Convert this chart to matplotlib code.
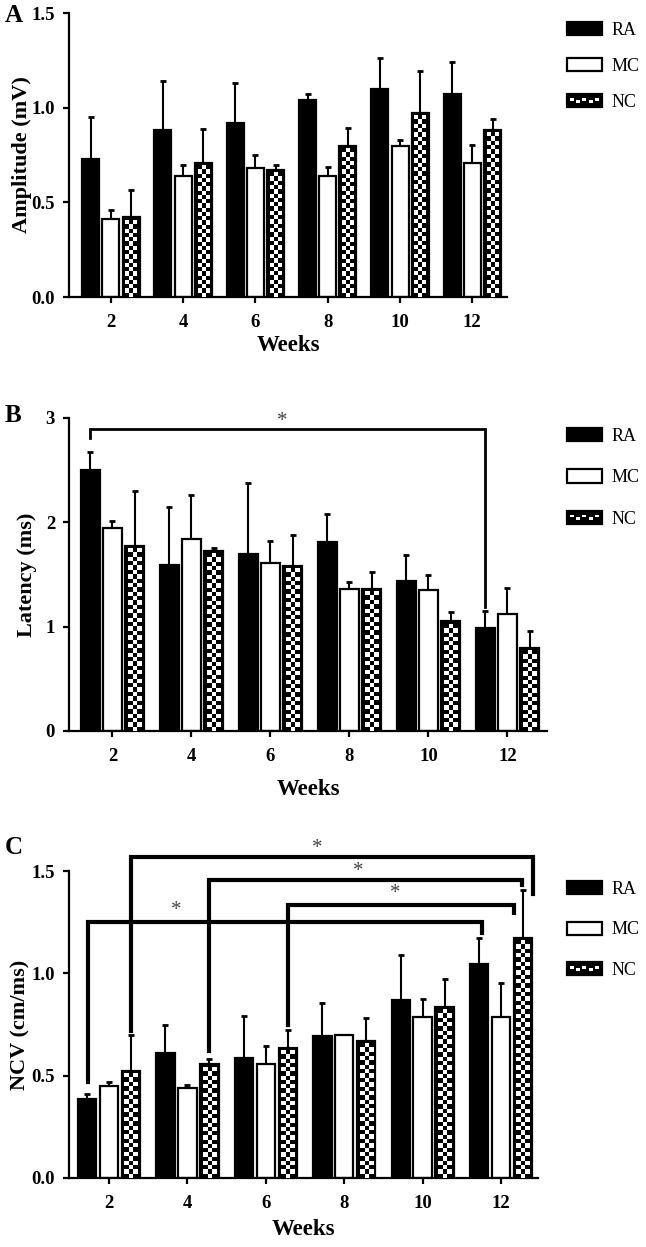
import numpy as np
import matplotlib
matplotlib.use("Agg")
import matplotlib.pyplot as plt
from matplotlib.patches import Rectangle
from matplotlib.legend_handler import HandlerBase

plt.rcParams['font.family'] = ['Liberation Serif', 'DejaVu Serif']

weeks = [2, 4, 6, 8, 10, 12]
groups = ['RA', 'MC', 'NC']

# panel A - amplitude (mV)
amp_ra = [0.73, 0.88, 0.92, 1.04, 1.10, 1.07]
amp_ra_err = [0.22, 0.26, 0.21, 0.03, 0.16, 0.17]
amp_mc = [0.41, 0.64, 0.68, 0.64, 0.80, 0.71]
amp_mc_err = [0.05, 0.055, 0.07, 0.045, 0.03, 0.095]
amp_nc = [0.42, 0.71, 0.67, 0.80, 0.97, 0.88]
amp_nc_err = [0.145, 0.175, 0.025, 0.09, 0.225, 0.06]

# panel B - latency (ms)
lat_ra = [2.50, 1.59, 1.70, 1.81, 1.44, 0.99]
lat_ra_err = [0.17, 0.56, 0.68, 0.27, 0.25, 0.16]
lat_mc = [1.95, 1.84, 1.61, 1.36, 1.35, 1.12]
lat_mc_err = [0.065, 0.42, 0.21, 0.065, 0.145, 0.25]
lat_nc = [1.77, 1.73, 1.58, 1.36, 1.05, 0.80]
lat_nc_err = [0.53, 0.02, 0.30, 0.16, 0.09, 0.16]

# panel C - NCV (cm/ms)
ncv_ra = [0.385, 0.61, 0.585, 0.695, 0.87, 1.045]
ncv_ra_err = [0.025, 0.14, 0.205, 0.16, 0.22, 0.13]
ncv_mc = [0.45, 0.44, 0.555, 0.70, 0.785, 0.785]
ncv_mc_err = [0.02, 0.015, 0.09, 0.0, 0.09, 0.17]
ncv_nc = [0.525, 0.555, 0.635, 0.67, 0.835, 1.175]
ncv_nc_err = [0.175, 0.025, 0.09, 0.11, 0.135, 0.23]

# significance brackets: x left, y left, x right, y right, y top, star x, star y
brackets_b = [(-0.28, 2.81, 4.72, 1.19, 2.895, 2.15, 2.97)]
brackets_c = [
    (-0.27, 0.47, 4.75, 1.195, 1.252, 0.86, 1.305),
    (0.28, 0.72, 5.40, 1.39, 1.570, 2.65, 1.61),
    (1.27, 0.62, 5.27, 1.43, 1.456, 3.18, 1.50),
    (2.28, 0.747, 5.16, 1.293, 1.334, 3.65, 1.39),
]

W, H = 646, 1247
fig = plt.figure(figsize=(W / 100, H / 100), dpi=100)

OFF = 0.28
BW = 0.235


def rect(left, right, top, bottom):
    return [left / W, 1 - bottom / H, (right - left) / W, (bottom - top) / H]


def checker(ax, x0, x1, h):
    if h <= 0:
        return
    p0 = ax.transData.transform((x0, 0))
    p1 = ax.transData.transform((x1, h))
    inset = 2.6
    wpx = p1[0] - p0[0] - 2 * inset
    hpx = p1[1] - p0[1] - inset
    cell = 4.3
    nc = max(2, int(round(wpx / cell)))
    nr = max(1, int(round(hpx / cell)))
    arr = (np.add.outer(np.arange(nr), np.arange(nc)) % 2).astype(float)
    inv = ax.transData.inverted()
    a = inv.transform((p0[0] + inset, p0[1]))
    b = inv.transform((p1[0] - inset, p1[1] - inset))
    ax.imshow(arr, cmap='gray', vmin=0, vmax=1, extent=[a[0], b[0], a[1], b[1]],
              aspect='auto', interpolation='nearest', zorder=3, origin='lower')


class CheckHandler(HandlerBase):
    def create_artists(self, legend, orig_handle, xdescent, ydescent, width, height, fontsize, trans):
        arts = [Rectangle((-xdescent, -ydescent), width, height, fc='black', ec='black', lw=1.2, transform=trans)]
        n = 5
        cw = width / (n * 1.5 + 1)
        for k in range(n):
            yy = -ydescent + height * (0.5 if k % 2 == 0 else 0.3)
            arts.append(Rectangle((-xdescent + cw * (0.7 + 1.5 * k), yy), cw, height * 0.22,
                                  fc='white', ec='none', transform=trans))
        return arts


def panel(box, ra, ra_err, mc, mc_err, nc, nc_err, ylim, yticks, yfmt, ylabel, xlim,
          letter, letter_xy, legend_xy, legend_space, ylabel_px, xlabelpad,
          brackets=None, br_lw=2.0):
    ax = fig.add_axes(rect(*box))
    ax.set_xlim(*xlim)
    ax.set_ylim(*ylim)
    x = np.arange(len(weeks))
    series = [(ra, ra_err, 'black'), (mc, mc_err, 'white'), (nc, nc_err, 'black')]
    handles = []
    for k, (vals, errs, fc) in enumerate(series):
        xs = x + (k - 1) * OFF
        bars = ax.bar(xs, vals, width=BW, color=fc, edgecolor='black', linewidth=1.6,
                      zorder=2, label=groups[k])
        ax.errorbar(xs, vals, yerr=[np.zeros(len(vals)), errs], fmt='none', ecolor='black',
                    elinewidth=1.5, capsize=2.5, capthick=2.0, zorder=1)
        handles.append(bars)
        if k == 2:
            for xi, v in zip(xs, vals):
                checker(ax, xi - BW / 2, xi + BW / 2, v)
    if brackets:
        for xl, yl, xr, yr, yt, sx, sy in brackets:
            ax.plot([xl, xl, xr, xr], [yl, yt, yt, yr], color='black', lw=br_lw,
                    solid_joinstyle='miter', clip_on=False, zorder=4)
            ax.text(sx, sy, '*', ha='center', va='center', fontsize=15, color='#444444')
    ax.spines['top'].set_visible(False)
    ax.spines['right'].set_visible(False)
    for s in ['left', 'bottom']:
        ax.spines[s].set_linewidth(1.6)
    ax.set_xticks(x)
    ax.set_xticklabels([str(w) for w in weeks])
    ax.set_yticks(yticks)
    ax.set_yticklabels([yfmt.format(t) for t in yticks])
    ax.tick_params(axis='both', direction='out', length=4, width=1.6, labelsize=13.5, pad=6)
    ax.tick_params(axis='x', pad=8)
    for lab in ax.get_xticklabels() + ax.get_yticklabels():
        lab.set_fontweight('bold')
    ax.set_xlabel('Weeks', fontsize=16.5, fontweight='bold', labelpad=xlabelpad)
    ax.set_ylabel(ylabel, fontsize=16, fontweight='bold', va='center')
    ax.yaxis.set_label_coords((ylabel_px - box[0]) / (box[1] - box[0]), 0.5)
    fig.text(letter_xy[0] / W, 1 - letter_xy[1] / H, letter, fontsize=18, fontweight='bold',
             ha='center', va='center')
    leg = fig.legend(handles, groups, loc='upper left',
                     bbox_to_anchor=(legend_xy[0] / W, 1 - legend_xy[1] / H),
                     frameon=False, fontsize=13, handlelength=1.95, handleheight=0.75,
                     handletextpad=0.5, labelspacing=legend_space, borderpad=0, borderaxespad=0,
                     handler_map={handles[2]: CheckHandler()})
    for p in leg.get_patches():
        p.set_linewidth(1.6)
    return ax


panel((69, 507, 13, 297), amp_ra, amp_ra_err, amp_mc, amp_mc_err, amp_nc, amp_nc_err,
      (0, 1.5), [0.0, 0.5, 1.0, 1.5], '{:.1f}', 'Amplitude (mV)', (-0.58, 5.48),
      'A', (14, 15), (567, 22), 1.05, 22, 3)

panel((69, 547, 418, 731), lat_ra, lat_ra_err, lat_mc, lat_mc_err, lat_nc, lat_nc_err,
      (0, 3), [0, 1, 2, 3], '{:.0f}', 'Latency (ms)', (-0.55, 5.50),
      'B', (13, 416), (567, 428), 1.35, 27, 10, brackets=brackets_b, br_lw=2.0)

panel((69, 538, 871, 1178), ncv_ra, ncv_ra_err, ncv_mc, ncv_mc_err, ncv_nc, ncv_nc_err,
      (0, 1.5), [0.0, 0.5, 1.0, 1.5], '{:.1f}', 'NCV (cm/ms)', (-0.51, 5.47),
      'C', (14, 848), (567, 881), 1.3, 20, 5, brackets=brackets_c, br_lw=3.0)

fig.savefig('out.png', dpi=100)
